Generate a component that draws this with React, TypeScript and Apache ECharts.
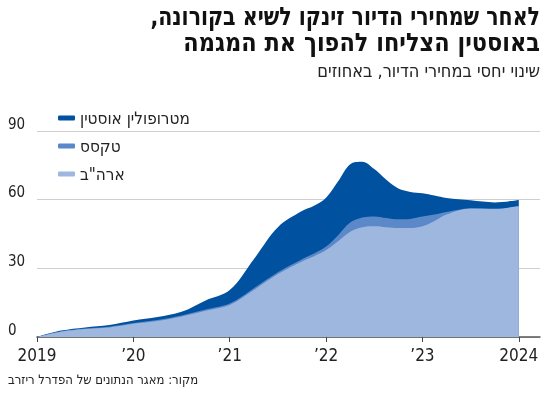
import React, { useEffect, useRef } from "react";
import * as echarts from "echarts";

const years = [
  2019.0, 2019.25, 2019.5, 2019.75, 2020.0, 2020.25, 2020.5, 2020.75, 2021.0, 2021.25, 2021.5,
  2021.75, 2021.875, 2022.0, 2022.125, 2022.25, 2022.375, 2022.5, 2022.625, 2022.75, 2022.875,
  2023.0, 2023.125, 2023.25, 2023.5, 2023.75, 2024.0,
];
const austin = [
  0, 2.8, 4.2, 5.2, 7.2, 8.7, 11, 16, 20.5, 34, 48,
  55, 57.3, 60.8, 68, 75.5, 76.6, 73.4, 68.7, 64.9, 63.4,
  62.8, 61.8, 60.7, 59.7, 58.8, 59.8,
];
const texas = [
  0, 2.5, 3.7, 4.5, 6.1, 7.4, 9.4, 12, 14.6, 21.3, 28.3,
  34, 36.5, 39.5, 44.5, 50, 52.2, 52.7, 52, 51.4, 51.6,
  52.6, 53.5, 54.6, 56.1, 55.6, 56.8,
];
const usa = [
  0, 2.3, 3.5, 4.2, 5.8, 7.0, 9.0, 11.5, 14, 20.5, 27.5,
  33, 35.3, 38, 41.8, 46, 48, 48.4, 48, 47.6, 47.6,
  48.4, 50.7, 53.5, 56.1, 56, 57.2,
];

const seriesNames = ["מטרופולין אוסטין", "טקסס", "ארה\"ב"];
const seriesColors = ["#00519f", "#5b88c8", "#9eb7df"];
const xTicks = [2019, 2020, 2021, 2022, 2023, 2024];
const yTicks = [0, 30, 60, 90];

const titleLine1 = "לאחר שמחירי הדיור זינקו לשיא בקורונה,\u200F";
const titleLine2 = "באוסטין הצליחו להפוך את המגמה";
const subtitle = "שינוי יחסי במחירי הדיור, באחוזים";
const source = "מקור: מאגר הנתונים של הפדרל ריזרב";

const FONT = "'DejaVu Sans Condensed', 'Liberation Sans Narrow', 'Liberation Sans', sans-serif";

export default function App() {
  const ref = useRef<HTMLDivElement>(null);
  useEffect(() => {
    if (!ref.current) return;
    const chart = echarts.init(ref.current, undefined, { renderer: "svg" });
    const allSeries = [austin, texas, usa].map((vals, i) => ({
      name: seriesNames[i],
      type: "line",
      smooth: 0.35,
      showSymbol: false,
      symbol: "none",
      lineStyle: { width: 0, color: seriesColors[i] },
      itemStyle: { color: seriesColors[i] },
      areaStyle: { color: seriesColors[i], opacity: 1 },
      data: years.map((y, k) => [y, vals[k]]),
      z: 2 + i,
    }));
    chart.setOption({
      animation: false,
      textStyle: { fontFamily: FONT },
      grid: { left: 37, right: 10, top: 131, bottom: 60, containLabel: false },
      legend: {
        left: 53,
        top: 103,
        orient: "vertical",
        itemGap: 8,
        itemWidth: 17,
        itemHeight: 5,
        icon: "roundRect",
        textStyle: { fontFamily: FONT, fontSize: 17, color: "#222", lineHeight: 20 },
        data: seriesNames.map((n, i) => ({ name: n, itemStyle: { color: seriesColors[i] } })),
      },
      xAxis: {
        type: "value",
        min: 2019,
        max: 2024.22,
        interval: 1,
        axisLine: { show: true, lineStyle: { color: "#555", width: 1.5 } },
        axisTick: { show: true, length: 5, lineStyle: { color: "#444" }, customValues: xTicks },
        splitLine: { show: false },
        axisLabel: {
          customValues: xTicks,
          fontFamily: FONT,
          fontSize: 17,
          color: "#222",
          margin: 9,
          formatter: (v: number) => {
            if (Math.abs(v - Math.round(v)) > 1e-6) return "";
            if (v === 2019 || v === 2024) return String(v);
            return "’" + String(v).slice(2);
          },
        },
      },
      yAxis: {
        type: "value",
        min: 0,
        max: 90,
        interval: 30,
        axisLine: { show: false },
        axisTick: { show: false },
        splitLine: { show: true, lineStyle: { color: "#cfcfcf", width: 1 } },
        axisLabel: {
          align: "left",
          verticalAlign: "bottom",
          margin: 29,
          fontFamily: FONT,
          fontSize: 15,
          color: "#222",
          formatter: (v: number) => (yTicks.includes(v) ? String(v) : ""),
        },
      },
      graphic: [
        {
          type: "text",
          x: 540,
          y: 4,
          scaleX: 0.95,
          scaleY: 1.05,
          style: { text: titleLine1, fontFamily: FONT, fontWeight: "bold", fontSize: 24, fill: "#111", align: "right", verticalAlign: "top" },
        },
        {
          type: "text",
          x: 540,
          y: 30,
          scaleX: 1.04,
          scaleY: 1.05,
          style: { text: titleLine2, fontFamily: FONT, fontWeight: "bold", fontSize: 24, fill: "#111", align: "right", verticalAlign: "top" },
        },
        {
          type: "text",
          x: 540,
          y: 61,
          style: { text: subtitle, fontFamily: FONT, fontSize: 18, fill: "#222", align: "right", verticalAlign: "top" },
        },
        {
          type: "text",
          x: 8,
          y: 373,
          style: { text: source, fontFamily: FONT, fontSize: 13, fill: "#222", align: "left", verticalAlign: "top" },
        },
      ],
      series: allSeries,
    });
    return () => chart.dispose();
  }, []);
  return <div ref={ref} style={{ position: "fixed", left: 0, top: 0, width: 550, height: 397 }} />;
}
